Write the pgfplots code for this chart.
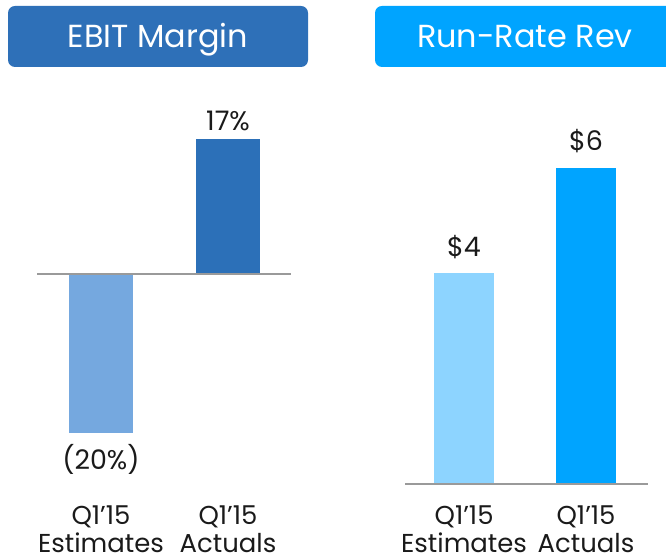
\documentclass[border=0pt]{standalone}
\usepackage{pgfplots}
\pgfplotsset{compat=1.18}
\usepackage{fontspec}
\setmainfont{Poppins}
\definecolor{ebitbox}{HTML}{2E70B8}
\definecolor{rrbox}{HTML}{00A4FF}
\definecolor{ebitest}{HTML}{75A8DF}
\definecolor{ebitact}{HTML}{2C70B8}
\definecolor{rrest}{HTML}{8DD4FF}
\definecolor{rract}{HTML}{00A4FF}
\definecolor{txt}{HTML}{1A1A1A}
\definecolor{basegray}{HTML}{9A9A9A}
\begin{document}
\begin{tikzpicture}[x=1bp,y=1bp]
\useasboundingbox (0,0) rectangle (666,557);
\clip (0,0) rectangle (666,557);
% title boxes
\fill[ebitbox, rounded corners=7bp] (8,490) rectangle (308,551);
\node[text=white, anchor=base, font=\fontsize{32}{36}\selectfont] at (158,509) {EBIT Margin};
\fill[rrbox, rounded corners=7bp] (375,490) rectangle (675,551);
\node[text=white, anchor=base, font=\fontsize{32}{36}\selectfont] at (525,509) {Run-Rate Rev};
% left chart
\begin{axis}[
  at={(37bp,73bp)}, anchor=south west,
  scale only axis, width=254bp, height=344.6bp,
  xmin=-0.504, xmax=1.496, ymin=-26.5, ymax=17,
  axis line style={draw=none}, major tick length=0pt,
  ytick=\empty, xtick={0,1},
  xticklabels={Q1’15\\Estimates, Q1’15\\Actuals},
  xticklabel style={anchor=base, yshift=-69bp, align=center, text=txt,
    font=\fontsize{26}{29}\selectfont},
  ybar, bar width=64bp, bar shift=0pt,
  point meta=explicit symbolic,
  nodes near coords,
  clip=false,
]
\addplot[draw=none, fill=ebitest,
  nodes near coords style={font=\fontsize{27}{30}\selectfont, text=txt, inner sep=0pt, anchor=north, yshift=-12bp}]
  coordinates {(0,-20) [(20\%)]};
\addplot[draw=none, fill=ebitact,
  nodes near coords style={font=\fontsize{27}{30}\selectfont, text=txt, inner sep=0pt, anchor=south, yshift=8bp}]
  coordinates {(1,17) [17\%]};
\draw[basegray, line width=2bp] (axis cs:-0.504,0) -- (axis cs:1.496,0);
\end{axis}
% right chart
\begin{axis}[
  at={(405bp,73bp)}, anchor=south west,
  scale only axis, width=243bp, height=316bp,
  xmin=-0.484, xmax=1.508, ymin=0, ymax=6,
  axis line style={draw=none}, major tick length=0pt,
  ytick=\empty, xtick={0,1},
  xticklabels={Q1’15\\Estimates, Q1’15\\Actuals},
  xticklabel style={anchor=base, yshift=-69bp, align=center, text=txt,
    font=\fontsize{26}{29}\selectfont},
  ybar, bar width=60bp, bar shift=0pt,
  point meta=explicit symbolic,
  nodes near coords,
  nodes near coords style={font=\fontsize{27}{30}\selectfont, text=txt, inner sep=0pt, anchor=base, yshift=17bp},
  clip=false,
]
\addplot[draw=none, fill=rrest] coordinates {(0,4) [\$4]};
\addplot[draw=none, fill=rract] coordinates {(1,6) [\$6]};
\draw[basegray, line width=2bp] (axis cs:-0.484,0) -- (axis cs:1.508,0);
\end{axis}
\end{tikzpicture}
\end{document}
